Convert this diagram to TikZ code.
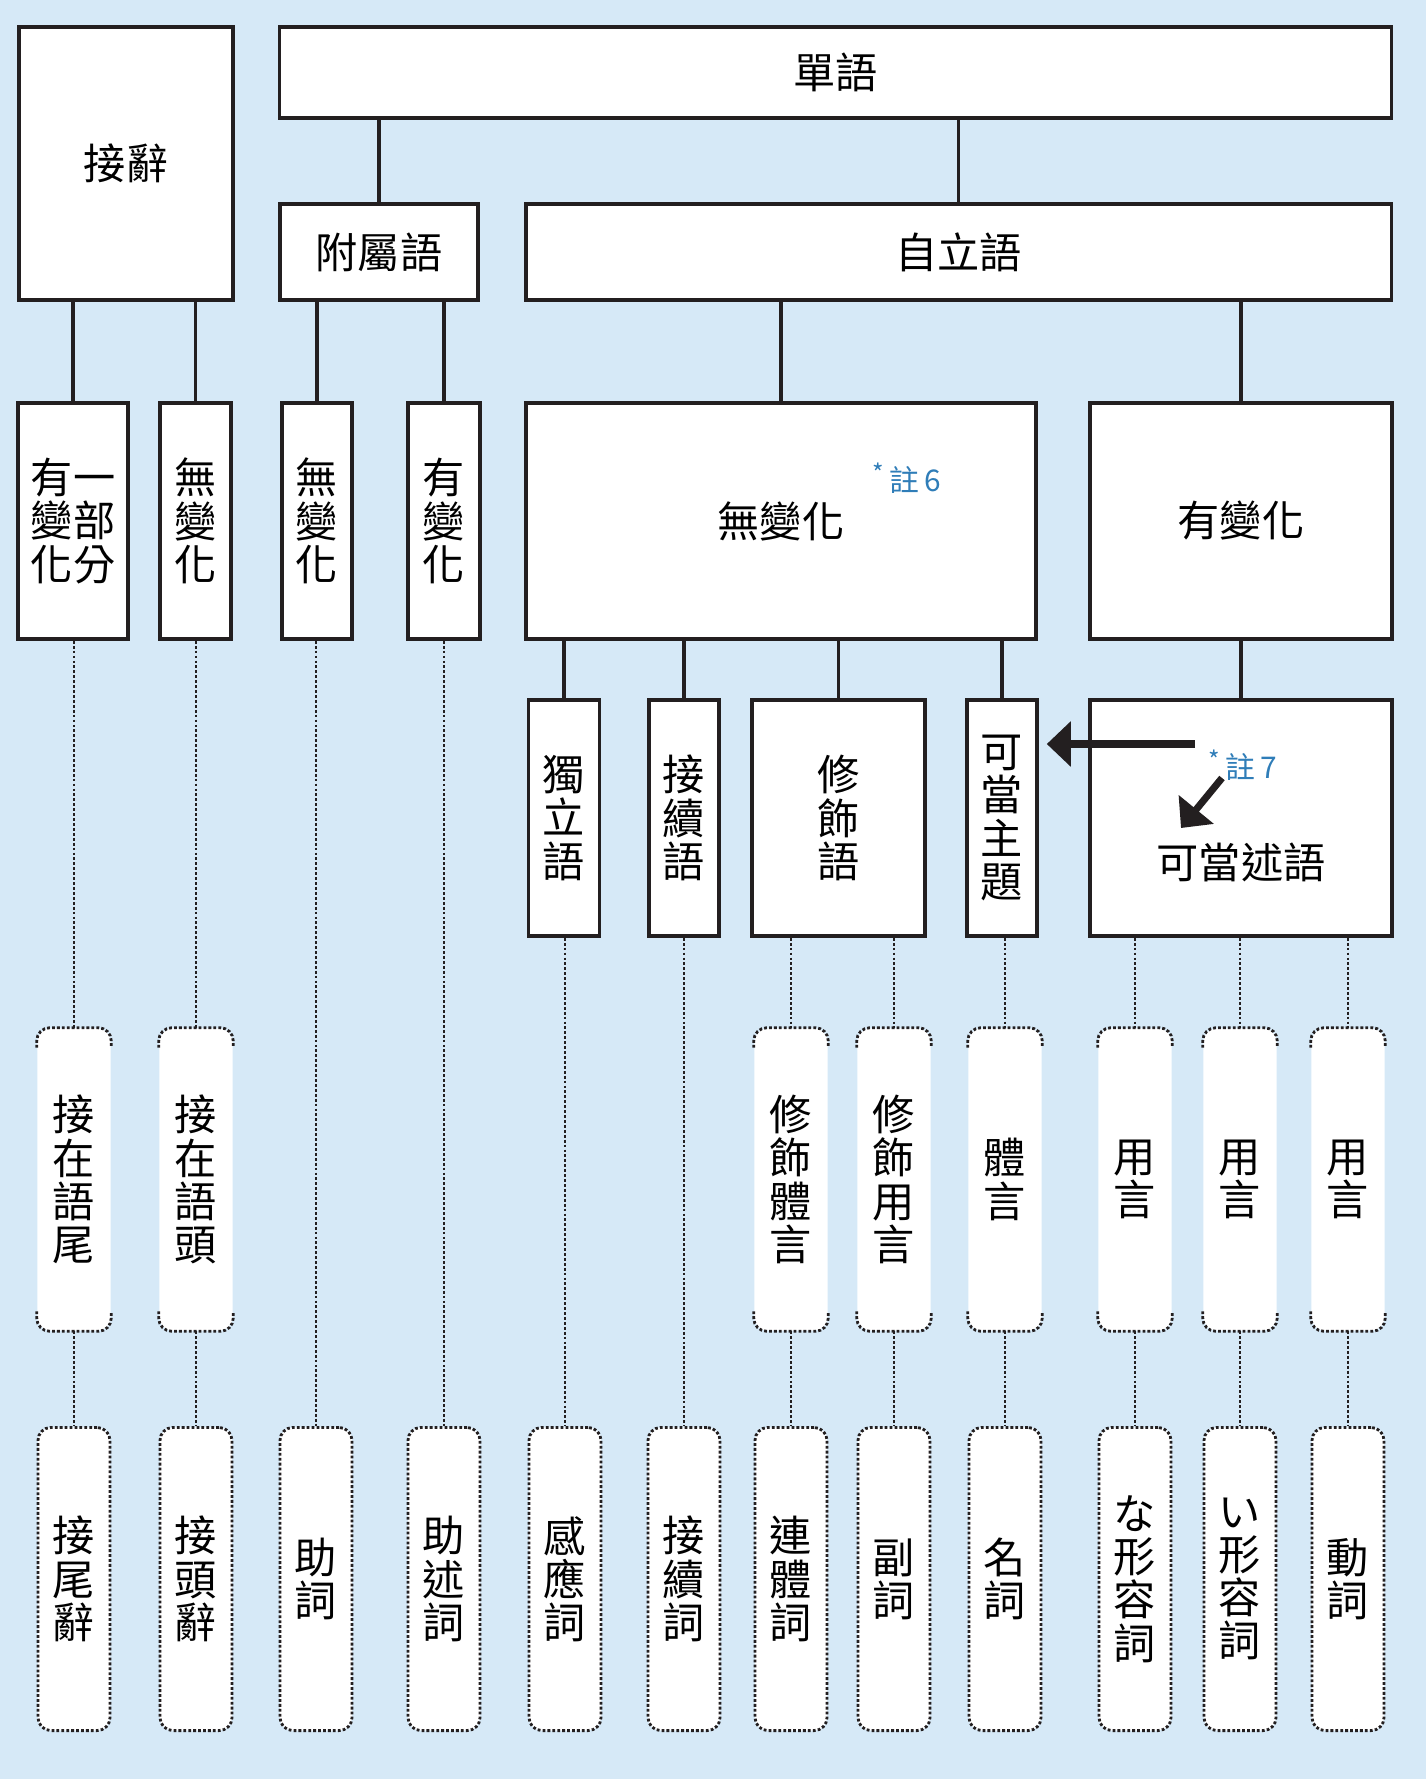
\documentclass[tikz,border=0pt]{standalone}
\usepackage{fontspec}
\setmainfont{Noto Sans CJK TC}
\usetikzlibrary{arrows.meta}
\definecolor{bgblue}{HTML}{D6E9F7}
\definecolor{noteblue}{HTML}{2F7DB8}
\definecolor{inkblack}{HTML}{231F20}
\newcommand{\cjkfont}{\fontsize{12}{12.3}\selectfont}
\tikzset{
  solidbox/.style={draw=inkblack, line width=1pt, fill=white, inner sep=0pt, align=center, font=\cjkfont},
  dotline/.style={draw=inkblack, line width=0.8pt, dash pattern=on 0.8pt off 0.6pt},
  dotbox/.style={dotline, fill=white, rounded corners=0.13cm, inner sep=0pt, align=center,
    minimum width=0.72cm, minimum height=3.03cm, font=\cjkfont},
  capbox/.style={fill=white, rounded corners=0.13cm, inner sep=0pt, align=center,
    minimum width=0.73cm, minimum height=3.02cm, font=\cjkfont},
  link/.style={draw=inkblack, line width=1pt},
  notetext/.style={text=noteblue, font=\fontsize{8.5}{8.5}\selectfont, inner sep=0pt, anchor=west},
  bigarrow/.style={inkblack, line width=2pt, -{Triangle[length=2.4mm,width=4.4mm]}},
}

\begin{document}
\begin{tikzpicture}[x=0.01cm, y=-0.01cm]
\useasboundingbox (0,0) rectangle (1426,1779);
\fill[bgblue] (0,0) rectangle (1426,1779);

% top rows
\node[solidbox, minimum width=2.14cm, minimum height=2.73cm] (jieci) at (126,163.5) {接辭};
\node[solidbox, minimum width=11.11cm, minimum height=0.91cm] (danyu) at (835.5,72.5) {單語};
\node[solidbox, minimum width=1.98cm, minimum height=0.96cm] (fushu) at (379,252) {附屬語};
\node[solidbox, minimum width=8.65cm, minimum height=0.96cm] (zili) at (958.5,252) {自立語};

% third row
\node[solidbox, minimum width=1.10cm, minimum height=2.36cm] (youbufen) at (73,521) {有一\\變部\\化分};
\node[solidbox, minimum width=0.71cm, minimum height=2.36cm] (wubianA) at (195.5,521) {無\\變\\化};
\node[solidbox, minimum width=0.70cm, minimum height=2.36cm] (wubianB) at (317,521) {無\\變\\化};
\node[solidbox, minimum width=0.72cm, minimum height=2.36cm] (youbianB) at (444,521) {有\\變\\化};
\node[solidbox, minimum width=5.10cm, minimum height=2.36cm] (wubian) at (781,521) {無變化};
\node[solidbox, minimum width=3.02cm, minimum height=2.36cm] (youbian) at (1241,521) {有變化};
\node[notetext] (note6) at (872,478) {\raisebox{0.3em}{\fontsize{7}{7}\selectfont*}\,註\,6};

% fourth row
\node[solidbox, minimum width=0.71cm, minimum height=2.36cm] (duli) at (564,818) {獨\\立\\語};
\node[solidbox, minimum width=0.70cm, minimum height=2.36cm] (jiexu) at (684,818) {接\\續\\語};
\node[solidbox, minimum width=1.73cm, minimum height=2.36cm] (xiushi) at (838.5,818) {修\\飾\\語};
\node[solidbox, minimum width=0.70cm, minimum height=2.36cm] (zhuti) at (1002,818) {可\\當\\主\\題};
\node[solidbox, minimum width=3.02cm, minimum height=2.36cm] (shuyu) at (1241,818) {};
\node[font=\cjkfont, inner sep=0pt] (shuyutxt) at (1241,862) {可當述語};
\node[notetext] (note7) at (1208,765) {\raisebox{0.3em}{\fontsize{7}{7}\selectfont*}\,註\,7};

% fifth row
\node[capbox] (weiA) at (74,1179.5) {接\\在\\語\\尾};
\node[capbox] (touA) at (196,1179.5) {接\\在\\語\\頭};
\node[capbox] (xiutiyan) at (791,1179.5) {修\\飾\\體\\言};
\node[capbox] (xiuyongyan) at (894,1179.5) {修\\飾\\用\\言};
\node[capbox] (tiyan) at (1005,1179.5) {體\\言};
\node[capbox] (yongA) at (1135,1179.5) {用\\言};
\node[capbox] (yongB) at (1240,1179.5) {用\\言};
\node[capbox] (yongC) at (1348,1179.5) {用\\言};
\foreach \n in {weiA,touA,xiutiyan,xiuyongyan,tiyan,yongA,yongB,yongC} {
  \draw[dotline, rounded corners=0.13cm] ([yshift=-0.2cm]\n.north west) -- (\n.north west) -- (\n.north east) -- ([yshift=-0.2cm]\n.north east);
  \draw[dotline, rounded corners=0.13cm] ([yshift=0.2cm]\n.south west) -- (\n.south west) -- (\n.south east) -- ([yshift=0.2cm]\n.south east);
}

% bottom row
\node[dotbox] (jiewei) at (74,1579) {接\\尾\\辭};
\node[dotbox] (jietou) at (196,1579) {接\\頭\\辭};
\node[dotbox] (zhuci) at (316,1579) {助\\詞};
\node[dotbox] (zhushu) at (444,1579) {助\\述\\詞};
\node[dotbox] (ganying) at (565,1579) {感\\應\\詞};
\node[dotbox] (jiexuci) at (684,1579) {接\\續\\詞};
\node[dotbox] (lianti) at (791,1579) {連\\體\\詞};
\node[dotbox] (fuci) at (894,1579) {副\\詞};
\node[dotbox] (mingci) at (1005,1579) {名\\詞};
\node[dotbox] (nadj) at (1135,1579) {な\\形\\容\\詞};
\node[dotbox] (iadj) at (1240,1579) {い\\形\\容\\詞};
\node[dotbox] (dongci) at (1348,1579) {動\\詞};

% solid links
\foreach \a/\b in {danyu/fushu, danyu/zili, jieci/youbufen, jieci/wubianA, fushu/wubianB, fushu/youbianB,
  zili/wubian, zili/youbian, wubian/duli, wubian/jiexu, wubian/xiushi, wubian/zhuti, youbian/shuyu}
  \draw[link] (\b.north |- \a.south) -- (\b.north);

% dotted links
\foreach \a/\b in {youbufen/weiA, weiA/jiewei, wubianA/touA, touA/jietou, wubianB/zhuci, youbianB/zhushu,
  duli/ganying, jiexu/jiexuci, xiushi/xiutiyan, xiutiyan/lianti, xiushi/xiuyongyan, xiuyongyan/fuci,
  zhuti/tiyan, tiyan/mingci, shuyu/yongA, yongA/nadj, shuyu/yongB, yongB/iadj, shuyu/yongC, yongC/dongci}
  \draw[dotline] (\b.north |- \a.south) -- (\b.north);

% arrows
\coordinate (arrowtail) at (1195,744);
\coordinate (n7tail) at (1222,778);
\coordinate (n7tip) at (1181,828);
\draw[bigarrow] (arrowtail) -- ([xshift=0.08cm]zhuti.east |- arrowtail);
\draw[bigarrow] (n7tail) -- (n7tip);
\end{tikzpicture}
\end{document}
